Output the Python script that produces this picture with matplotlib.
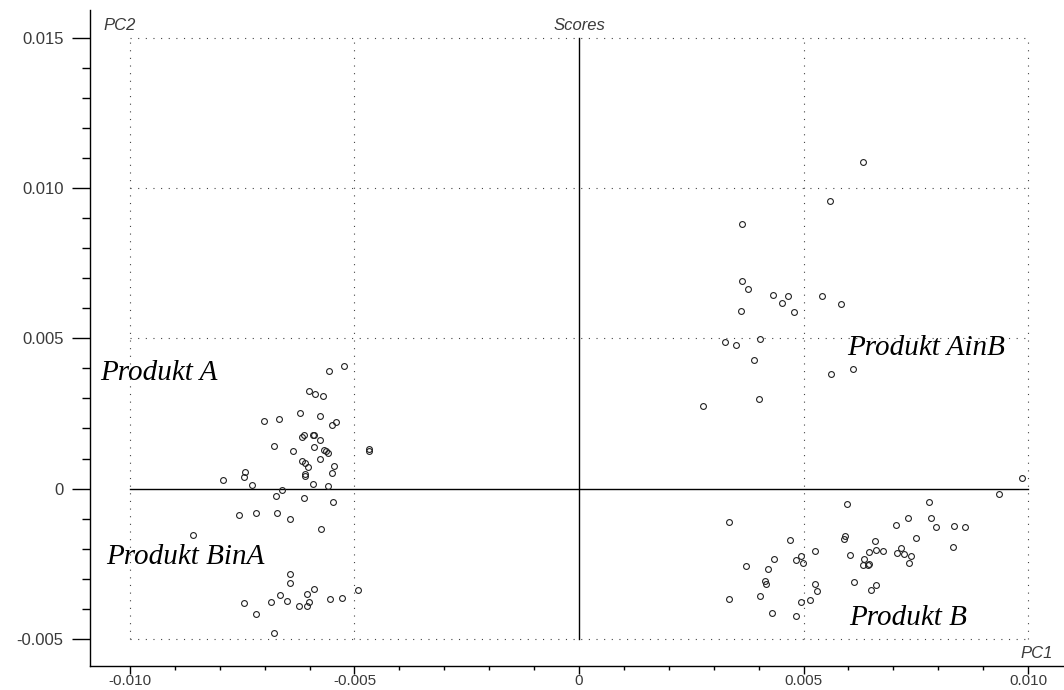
import numpy as np
import matplotlib
matplotlib.use("Agg")
import matplotlib.pyplot as plt
from matplotlib.ticker import MultipleLocator, FuncFormatter

# PCA scores (PC1, PC2), in units of 1e-3
a_pc1 = [-5.227, -5.568, -6.007, -5.886, -5.702, -7.016, -6.675, -6.214, -5.768, -5.494,
         -5.405, -6.163, -6.125, -5.931, -5.902, -5.768, -6.786, -6.370, -5.909, -5.686,
         -5.641, -5.590, -4.677, -4.677, -5.775, -6.169, -6.096, -6.042, -5.450, -5.494,
         -6.096, -6.096, -7.439, -7.450, -7.918, -7.272, -5.931, -5.584, -6.621, -6.755,
         -6.118, -5.472]
a_pc2 = [4.073, 3.897, 3.233, 3.143, 3.066, 2.259, 2.302, 2.512, 2.402, 2.126,
         2.203, 1.704, 1.771, 1.771, 1.771, 1.615, 1.429, 1.262, 1.395, 1.296,
         1.262, 1.196, 1.306, 1.256, 0.983, 0.917, 0.841, 0.708, 0.741, 0.532,
         0.498, 0.432, 0.542, 0.385, 0.282, 0.120, 0.143, 0.100, -0.033, -0.239,
         -0.299, -0.455]

bina_pc1 = [-7.566, -7.194, -6.733, -6.437, -5.746, -8.604, -6.437, -6.437, -5.902, -6.051,
            -6.670, -7.454, -6.860, -6.510, -6.229, -6.051, -6.020, -5.539, -5.285, -4.915,
            -7.194, -6.786]
bina_pc2 = [-0.864, -0.797, -0.797, -1.010, -1.352, -1.528, -2.854, -3.123, -3.336, -3.512,
            -3.545, -3.821, -3.787, -3.744, -3.920, -3.920, -3.787, -3.678, -3.645, -3.369,
            -4.166, -4.797]

ainb_pc1 = [6.332, 5.590, 3.637, 3.637, 3.757, 4.327, 4.514, 4.648, 4.788, 5.412,
            5.829, 3.608, 3.245, 3.497, 4.024, 3.891, 5.619, 6.102, 4.009, 2.762]
ainb_pc2 = [10.874, 9.555, 8.791, 6.910, 6.645, 6.432, 6.189, 6.399, 5.867, 6.399,
            6.156, 5.914, 4.870, 4.761, 4.970, 4.272, 3.821, 3.963, 2.990, 2.744]

b_pc1 = [9.860, 9.354, 3.334, 5.969, 7.788, 7.321, 7.833, 7.053, 7.951, 8.359,
         8.590, 4.699, 5.902, 5.924, 6.592, 7.506, 8.336, 5.249, 6.036, 6.465,
         6.615, 6.764, 7.165, 7.089, 7.238, 7.401, 7.350, 4.350, 4.833, 4.951,
         4.996, 6.354, 6.332, 6.437, 6.459, 3.726, 4.209, 4.136, 4.158, 5.249,
         5.294, 6.131, 6.510, 6.615, 4.031, 3.334, 4.944, 5.138, 4.305, 4.833]
b_pc2 = [0.352, -0.166, -1.110, -0.522, -0.445, -0.963, -0.963, -1.219, -1.286, -1.252,
         -1.286, -1.694, -1.661, -1.561, -1.728, -1.628, -1.940, -2.083, -2.193, -2.116,
         -2.050, -2.073, -1.973, -2.150, -2.183, -2.249, -2.458, -2.326, -2.359, -2.226,
         -2.472, -2.326, -2.538, -2.525, -2.515, -2.571, -2.681, -3.080, -3.169, -3.189,
         -3.402, -3.090, -3.369, -3.203, -3.568, -3.678, -3.787, -3.721, -4.133, -4.233]

group_names = ["Produkt A", "Produkt BinA", "Produkt AinB", "Produkt B"]
name_pos = [(-10.66, 3.83), (-10.53, -2.27), (5.96, 4.67), (6.02, -4.32)]

x_grid = [-0.010, -0.005, 0.005, 0.010]
y_grid = [-0.005, 0.005, 0.010, 0.015]

plt.rcParams['font.family'] = ['Liberation Sans', 'DejaVu Sans']
plt.rcParams['lines.scale_dashes'] = False

fig = plt.figure(figsize=(10.64, 6.9), dpi=100)
ax = fig.add_axes([90 / 1064, 24 / 690, 974 / 1064, 656 / 690])

s = 1e-3
for px, py in [(a_pc1, a_pc2), (bina_pc1, bina_pc2), (ainb_pc1, ainb_pc2), (b_pc1, b_pc2)]:
    ax.plot(np.array(px) * s, np.array(py) * s, 'o', ms=4.2, mfc='none',
            mec='#222222', mew=0.8, zorder=3)

# dotted grid, only within the data frame
for gx in x_grid:
    ax.plot([gx, gx], [-0.005, 0.015], color='#444444', lw=0.8,
            dashes=(0.8, 4.7), zorder=1)
for gy in y_grid:
    ax.plot([-0.010, 0.010], [gy, gy], color='#444444', lw=0.8,
            dashes=(0.8, 4.7), zorder=1)
ax.plot([0, 0], [-0.005, 0.015], color='black', lw=1, zorder=2)
ax.plot([-0.010, 0.010], [0, 0], color='black', lw=1, zorder=2)

for name, (nx, ny) in zip(group_names, name_pos):
    ax.text(nx * s, ny * s, name, family='Liberation Serif', style='italic',
            fontsize=21, ha='left', va='center', color='black')

ax.set_xlim(-0.01089, 0.01080)
ax.set_ylim(-0.00590, 0.01592)

for side in ['top', 'right']:
    ax.spines[side].set_visible(False)
for side in ['left', 'bottom']:
    ax.spines[side].set_linewidth(1.0)

fmt = FuncFormatter(lambda v, p: "0" if abs(v) < 1e-9 else f"{v:.3f}")
ax.xaxis.set_major_locator(MultipleLocator(0.005))
ax.xaxis.set_minor_locator(MultipleLocator(0.001))
ax.yaxis.set_major_locator(MultipleLocator(0.005))
ax.yaxis.set_minor_locator(MultipleLocator(0.001))
ax.xaxis.set_major_formatter(fmt)
ax.yaxis.set_major_formatter(fmt)
ax.tick_params(axis='y', which='major', length=13, width=1, pad=6,
               labelsize=12, labelcolor='#3a3a3a')
ax.tick_params(axis='y', which='minor', length=5.5, width=1)
ax.tick_params(axis='x', which='major', length=5.5, width=1, pad=0.5,
               labelsize=11, labelcolor='#3a3a3a')
ax.tick_params(axis='x', which='minor', length=3, width=1)

ax.text((103 - 90) / 974, (690 - 25 - 24) / 656, "PC2", transform=ax.transAxes,
        style='italic', fontsize=12, color='#3a3a3a', ha='left', va='center')
ax.text(0, (690 - 25 - 24) / 656, "Scores", transform=ax.get_xaxis_transform(),
        style='italic', fontsize=12, color='#3a3a3a', ha='center', va='center')
ax.text((1053 - 90) / 974, (690 - 654 - 24) / 656, "PC1", transform=ax.transAxes,
        style='italic', fontsize=12, color='#3a3a3a', ha='right', va='center')

fig.savefig("out.png", dpi=100)
